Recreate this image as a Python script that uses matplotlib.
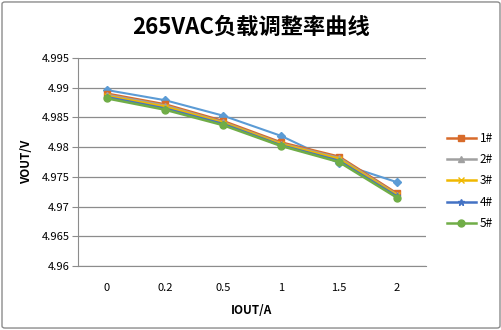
import matplotlib.pyplot as plt
from matplotlib.patches import FancyBboxPatch

plt.rcParams["font.family"] = ["Noto Sans CJK SC", "DejaVu Sans"]

iout = ["0", "0.2", "0.5", "1", "1.5", "2"]
v_extra = [4.9896, 4.9879, 4.9853, 4.9819, 4.9773, 4.9741]
v1 = [4.9890, 4.9872, 4.9844, 4.9808, 4.9784, 4.9722]
v2 = [4.9888, 4.9870, 4.9842, 4.9806, 4.9782, 4.9720]
v3 = [4.9886, 4.9868, 4.9841, 4.9805, 4.9780, 4.9719]
v4 = [4.9884, 4.9865, 4.9839, 4.9803, 4.9777, 4.9717]
v5 = [4.9882, 4.9863, 4.9837, 4.9802, 4.9775, 4.9715]

series = [
    ("1#", v1, "#d86b2a", "s", 5),
    ("2#", v2, "#a0a0a0", "^", 5),
    ("3#", v3, "#f0b800", "x", 5),
    ("4#", v4, "#4472c4", "*", 5),
    ("5#", v5, "#70ad47", "o", 5),
]

fig = plt.figure(figsize=(5.02, 3.30), dpi=100)
fig.patches.append(FancyBboxPatch((0.004, 0.006), 0.992, 0.988,
                                  boxstyle="round,pad=0,rounding_size=0.006",
                                  transform=fig.transFigure, fill=False,
                                  edgecolor="#8c8c8c", linewidth=1))
ax = fig.add_axes([78 / 502, 1 - 266 / 330, 348 / 502, 208 / 330])

x = range(len(iout))
ax.plot(x, v_extra, color="#5b9bd5", marker="D", markersize=4, linewidth=1.5)
for name, vals, color, marker, ms in series:
    ax.plot(x, vals, color=color, marker=marker, markersize=ms,
            linewidth=1.8, label=name)

ax.set_xlim(-0.5, 5.5)
ax.set_ylim(4.96, 4.995)
ax.set_yticks([4.96, 4.965, 4.97, 4.975, 4.98, 4.985, 4.99, 4.995])
ax.set_yticklabels(["4.96", "4.965", "4.97", "4.975", "4.98", "4.985", "4.99", "4.995"])
ax.set_xticks(list(x))
ax.set_xticklabels(iout)
ax.tick_params(axis="y", labelsize=8, length=4, color="#8c8c8c", pad=2)
ax.tick_params(axis="x", labelsize=8, length=0, pad=12)
ax.grid(axis="y", color="#8c8c8c", linewidth=0.9)
ax.set_axisbelow(True)
for side in ["top", "right"]:
    ax.spines[side].set_visible(False)
ax.spines["left"].set_color("#8c8c8c")
ax.spines["bottom"].set_color("#8c8c8c")

ax.set_xlabel("IOUT/A", fontsize=8.5, fontweight="bold", labelpad=8)
ax.set_ylabel("VOUT/V", fontsize=8.5, fontweight="bold", labelpad=6)
fig.text(0.5, 1 - 27 / 330, "265VAC负载调整率曲线", ha="center", va="center",
         fontsize=16, fontweight="bold")

fig.legend(loc="center left", bbox_to_anchor=(436 / 502, 1 - 181 / 330),
           frameon=False, fontsize=8.5, handlelength=2.5, labelspacing=0.7,
           handletextpad=0.3)

fig.savefig("out.png", dpi=100)
